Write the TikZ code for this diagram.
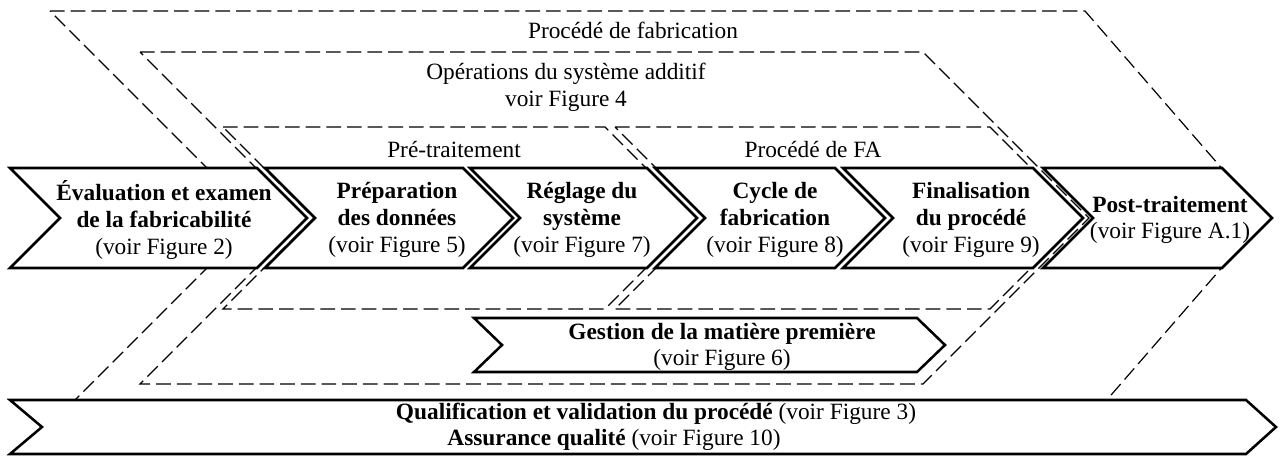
\documentclass[tikz,border=0pt]{standalone}
\usepackage{fontspec}
\setmainfont{Liberation Serif}
\begin{document}
\begin{tikzpicture}[x=0.75pt,y=-0.75pt,
  chev/.style={draw=black, line width=1.9pt, fill=white, line join=miter},
  dsh/.style={draw=black, line width=0.9pt, dash pattern=on 11pt off 4.5pt},
  lbl/.style={font=\fontsize{17.5}{20}\selectfont, align=center, inner sep=0pt},
]
\useasboundingbox (0,0) rectangle (1284,456);
% dashed groupings
\draw[dsh] (50,11) -- (1085,11) -- (1265,218) -- (1085,425) -- (50,425) -- (257,218) -- cycle;
\draw[dsh] (140,52) -- (923,52) -- (1089,218) -- (923,384) -- (140,384) -- (306,218) -- cycle;
\draw[dsh] (223,127) -- (605,127) -- (696,218) -- (605,309) -- (223,309) -- (314,218) -- cycle;
\draw[dsh] (615,127) -- (990,127) -- (1081,218) -- (990,309) -- (615,309) -- (706,218) -- cycle;
% main chevrons
\draw[chev] (10,168) -- (257,168) -- (307,218) -- (257,268) -- (10,268) -- (60,218) -- cycle;
\draw[chev] (265,168) -- (463,168) -- (513,218) -- (463,268) -- (265,268) -- (315,218) -- cycle;
\draw[chev] (470,168) -- (647,168) -- (697,218) -- (647,268) -- (470,268) -- (520,218) -- cycle;
\draw[chev] (655,168) -- (835,168) -- (885,218) -- (835,268) -- (655,268) -- (705,218) -- cycle;
\draw[chev] (843,168) -- (1033,168) -- (1083,218) -- (1033,268) -- (843,268) -- (893,218) -- cycle;
\draw[chev] (1043,168) -- (1222,168) -- (1272,218) -- (1222,268) -- (1043,268) -- (1093,218) -- cycle;
% material chevron
\draw[chev] (474,318) -- (917,318) -- (945,345) -- (917,372) -- (474,372) -- (502,345) -- cycle;
% qualification chevron
\draw[chev] (10,400) -- (1246,400) -- (1276,427) -- (1246,454) -- (10,454) -- (42,427) -- cycle;
% group labels
\node[lbl] (pf) at (633,30) {Procédé de fabrication};
\node[lbl] (op) at (566,87) {Opérations du système additif\\voir Figure 4};
\node[lbl] (pt) at (454,150) {Pré-traitement};
\node[lbl] (fa) at (813,150) {Procédé de FA};
% chevron texts
\node[lbl] (t1) at (164,220) {\textbf{Évaluation et examen}\\\textbf{de la fabricabilité}\\(voir Figure 2)};
\node[lbl] (t2) at (397,220) {\textbf{Préparation}\\\textbf{des données}\\(voir Figure 5)};
\node[lbl] (t3) at (582,220) {\textbf{Réglage du}\\\textbf{système}\\(voir Figure 7)};
\node[lbl] (t4) at (775,220) {\textbf{Cycle de}\\\textbf{fabrication}\\(voir Figure 8)};
\node[lbl] (t5) at (971,220) {\textbf{Finalisation}\\\textbf{du procédé}\\(voir Figure 9)};
\node[lbl] (t6) at (1170,220) {\textbf{Post-traitement}\\(voir Figure A.1)};
\node[lbl] (tg) at (722,347) {\textbf{Gestion de la matière première}\\(voir Figure 6)};
\node[lbl] (q1) at (656,414) {\textbf{Qualification et validation du procédé} (voir Figure 3)};
\node[lbl] (q2) at (614,440) {\textbf{Assurance qualité} (voir Figure 10)};
\end{tikzpicture}
\end{document}
